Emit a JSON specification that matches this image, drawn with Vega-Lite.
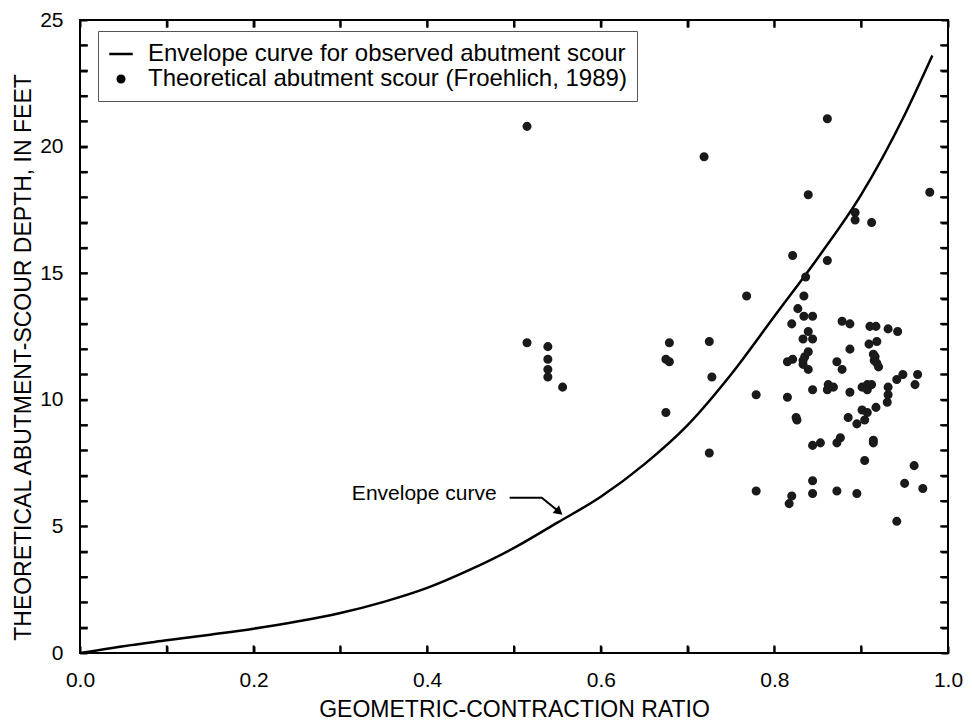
{
  "$schema": "https://vega.github.io/schema/vega-lite/v6.json",
  "autosize": {"type": "none"},
  "padding": {"left": 80, "top": 20, "right": 24, "bottom": 69},
  "width": 868,
  "height": 633,
  "background": "white",
  "config": {
    "font": "Liberation Sans",
    "view": {"stroke": "black", "strokeWidth": 2},
    "axis": {
      "domain": false,
      "offset": -7,
      "ticks": true,
      "tickColor": "black", "tickWidth": 2, "tickSize": 7, "tickOpacity": 1,
      "grid": false,
      "labelFlush": false,
      "labelOverlap": false,
      "labelColor": "black", "titleColor": "black",
      "labelFont": "Liberation Sans", "titleFont": "Liberation Sans",
      "labelFontSize": 21, "titleFontSize": 23, "titleFontWeight": "normal"
    }
  },
  "datasets": {
    "curve": [
      {"x": 0, "y": 0}, {"x": 0.05, "y": 0.27}, {"x": 0.1, "y": 0.5}, {"x": 0.15, "y": 0.725},
      {"x": 0.2, "y": 0.96}, {"x": 0.25, "y": 1.24}, {"x": 0.3, "y": 1.58}, {"x": 0.35, "y": 2.02},
      {"x": 0.4, "y": 2.57}, {"x": 0.45, "y": 3.3}, {"x": 0.5, "y": 4.15}, {"x": 0.55, "y": 5.15},
      {"x": 0.6, "y": 6.17}, {"x": 0.65, "y": 7.45}, {"x": 0.7, "y": 9.0}, {"x": 0.75, "y": 11.0},
      {"x": 0.8, "y": 13.3}, {"x": 0.85, "y": 15.6}, {"x": 0.9, "y": 18.1}, {"x": 0.95, "y": 21.25},
      {"x": 0.982, "y": 23.6}
    ],
    "xticks": [
      {"v": 0.1}, {"v": 0.2}, {"v": 0.3}, {"v": 0.4}, {"v": 0.5},
      {"v": 0.6}, {"v": 0.7}, {"v": 0.8}, {"v": 0.9}
    ],
    "yticks": [
      {"v": 1}, {"v": 2}, {"v": 3}, {"v": 4}, {"v": 5}, {"v": 6}, {"v": 7}, {"v": 8},
      {"v": 9}, {"v": 10}, {"v": 11}, {"v": 12}, {"v": 13}, {"v": 14}, {"v": 15}, {"v": 16},
      {"v": 17}, {"v": 18}, {"v": 19}, {"v": 20}, {"v": 21}, {"v": 22}, {"v": 23}, {"v": 24}
    ],
    "points": [
      {"x": 0.515, "y": 20.8}, {"x": 0.719, "y": 19.6}, {"x": 0.861, "y": 21.1}, {"x": 0.839, "y": 18.1},
      {"x": 0.893, "y": 17.4}, {"x": 0.893, "y": 17.1}, {"x": 0.912, "y": 17.0}, {"x": 0.979, "y": 18.2},
      {"x": 0.821, "y": 15.7}, {"x": 0.861, "y": 15.5}, {"x": 0.836, "y": 14.85}, {"x": 0.834, "y": 14.1},
      {"x": 0.827, "y": 13.6}, {"x": 0.834, "y": 13.3}, {"x": 0.844, "y": 13.3}, {"x": 0.82, "y": 13.0},
      {"x": 0.878, "y": 13.1}, {"x": 0.887, "y": 13.0}, {"x": 0.91, "y": 12.9}, {"x": 0.917, "y": 12.9},
      {"x": 0.931, "y": 12.8}, {"x": 0.942, "y": 12.7}, {"x": 0.839, "y": 12.7}, {"x": 0.833, "y": 12.4},
      {"x": 0.844, "y": 12.4}, {"x": 0.909, "y": 12.2}, {"x": 0.918, "y": 12.3}, {"x": 0.887, "y": 12.0},
      {"x": 0.839, "y": 11.9}, {"x": 0.835, "y": 11.7}, {"x": 0.833, "y": 11.55}, {"x": 0.815, "y": 11.5},
      {"x": 0.821, "y": 11.6}, {"x": 0.833, "y": 11.4}, {"x": 0.839, "y": 11.2}, {"x": 0.872, "y": 11.5},
      {"x": 0.878, "y": 11.2}, {"x": 0.914, "y": 11.8}, {"x": 0.916, "y": 11.7}, {"x": 0.915, "y": 11.55},
      {"x": 0.918, "y": 11.45}, {"x": 0.92, "y": 11.3}, {"x": 0.948, "y": 11.0}, {"x": 0.965, "y": 11.0},
      {"x": 0.962, "y": 10.6}, {"x": 0.941, "y": 10.8}, {"x": 0.931, "y": 10.5}, {"x": 0.931, "y": 10.2},
      {"x": 0.93, "y": 9.9}, {"x": 0.844, "y": 10.4}, {"x": 0.815, "y": 10.1}, {"x": 0.862, "y": 10.6},
      {"x": 0.868, "y": 10.5}, {"x": 0.861, "y": 10.4}, {"x": 0.887, "y": 10.3}, {"x": 0.901, "y": 10.5},
      {"x": 0.907, "y": 10.6}, {"x": 0.912, "y": 10.6}, {"x": 0.907, "y": 10.4}, {"x": 0.917, "y": 9.7},
      {"x": 0.901, "y": 9.6}, {"x": 0.907, "y": 9.5}, {"x": 0.904, "y": 9.2}, {"x": 0.895, "y": 9.05},
      {"x": 0.885, "y": 9.3}, {"x": 0.825, "y": 9.3}, {"x": 0.826, "y": 9.2}, {"x": 0.844, "y": 8.2},
      {"x": 0.853, "y": 8.3}, {"x": 0.872, "y": 8.3}, {"x": 0.876, "y": 8.5}, {"x": 0.914, "y": 8.4},
      {"x": 0.914, "y": 8.3}, {"x": 0.904, "y": 7.6}, {"x": 0.961, "y": 7.4}, {"x": 0.844, "y": 6.8},
      {"x": 0.95, "y": 6.7}, {"x": 0.971, "y": 6.5}, {"x": 0.82, "y": 6.2}, {"x": 0.817, "y": 5.9},
      {"x": 0.844, "y": 6.3}, {"x": 0.872, "y": 6.4}, {"x": 0.895, "y": 6.3}, {"x": 0.941, "y": 5.2},
      {"x": 0.515, "y": 12.25}, {"x": 0.539, "y": 12.1}, {"x": 0.539, "y": 11.6}, {"x": 0.539, "y": 11.2},
      {"x": 0.539, "y": 10.9}, {"x": 0.556, "y": 10.5}, {"x": 0.679, "y": 12.25}, {"x": 0.675, "y": 11.6},
      {"x": 0.679, "y": 11.5}, {"x": 0.675, "y": 9.5}, {"x": 0.725, "y": 12.3}, {"x": 0.728, "y": 10.9},
      {"x": 0.725, "y": 7.9}, {"x": 0.768, "y": 14.1}, {"x": 0.779, "y": 10.2}, {"x": 0.779, "y": 6.4}
    ],
    "arrow": [
      {"x": 0.495, "y": 6.13, "o": 1}, {"x": 0.532, "y": 6.13, "o": 2}, {"x": 0.553, "y": 5.55, "o": 3}
    ],
    "arrowhead": [{"x": 0.552, "y": 5.57}],
    "label": [{"x": 0.48, "y": 6.28, "text": "Envelope curve"}]
  },
  "layer": [
    {
      "data": {"name": "curve"},
      "mark": {"type": "line", "color": "black", "strokeWidth": 2.5, "interpolate": "monotone"},
      "encoding": {
        "x": {
          "field": "x", "type": "quantitative",
          "scale": {"domain": [0, 1], "nice": false},
          "axis": {
            "orient": "bottom",
            "values": [0, 0.1, 0.2, 0.3, 0.4, 0.5, 0.6, 0.7, 0.8, 0.9, 1.0],
            "labelExpr": "round(datum.value * 10) % 2 === 0 ? format(datum.value, '.1f') : ''",
            "labelPadding": 16,
            "title": "GEOMETRIC-CONTRACTION RATIO",
            "titlePadding": 8
          }
        },
        "y": {
          "field": "y", "type": "quantitative",
          "scale": {"domain": [0, 25], "nice": false},
          "axis": {
            "orient": "left",
            "values": [0,1,2,3,4,5,6,7,8,9,10,11,12,13,14,15,16,17,18,19,20,21,22,23,24,25],
            "labelExpr": "datum.value % 5 === 0 ? datum.label : ''",
            "labelPadding": 17,
            "title": "THEORETICAL ABUTMENT-SCOUR DEPTH, IN FEET",
            "titlePadding": 4,
            "titleAnchor": "middle",
            "titleY": 337
          }
        }
      }
    },
    {
      "data": {"name": "xticks"},
      "mark": {"type": "rule", "color": "black", "strokeWidth": 2},
      "encoding": {
        "x": {"field": "v", "type": "quantitative", "axis": null},
        "y": {"datum": 0, "type": "quantitative", "axis": null},
        "y2": {"datum": 0.3}
      }
    },
    {
      "data": {"name": "xticks"},
      "mark": {"type": "rule", "color": "black", "strokeWidth": 2},
      "encoding": {
        "x": {"field": "v", "type": "quantitative", "axis": null},
        "y": {"datum": 25, "type": "quantitative", "axis": null},
        "y2": {"datum": 24.7}
      }
    },
    {
      "data": {"name": "yticks"},
      "mark": {"type": "rule", "color": "black", "strokeWidth": 2},
      "encoding": {
        "y": {"field": "v", "type": "quantitative", "axis": null},
        "x": {"datum": 0, "type": "quantitative", "axis": null},
        "x2": {"datum": 0.009}
      }
    },
    {
      "data": {"name": "yticks"},
      "mark": {"type": "rule", "color": "black", "strokeWidth": 2},
      "encoding": {
        "y": {"field": "v", "type": "quantitative", "axis": null},
        "x": {"datum": 1, "type": "quantitative", "axis": null},
        "x2": {"datum": 0.991}
      }
    },
    {
      "data": {"name": "points"},
      "transform": [{"calculate": "'Theoretical abutment scour (Froehlich, 1989)'", "as": "series"}],
      "mark": {"type": "point", "filled": false, "color": "#1a1a1a", "opacity": 1},
      "encoding": {
        "x": {
          "field": "x", "type": "quantitative",
          "axis": {
            "orient": "top", "labels": false, "title": null,
            "values": [0, 0.1, 0.2, 0.3, 0.4, 0.5, 0.6, 0.7, 0.8, 0.9, 1.0]
          }
        },
        "y": {
          "field": "y", "type": "quantitative",
          "axis": {
            "orient": "right", "labels": false, "title": null,
            "values": [0,1,2,3,4,5,6,7,8,9,10,11,12,13,14,15,16,17,18,19,20,21,22,23,24,25]
          }
        },
        "shape": {
          "field": "series", "type": "nominal",
          "scale": {
            "domain": ["Envelope curve for observed abutment scour", "Theoretical abutment scour (Froehlich, 1989)"],
            "range": ["stroke", "circle"]
          },
          "legend": {
            "title": null,
            "orient": "none",
            "legendX": 18,
            "legendY": 11,
            "strokeColor": "#555555",
            "fillColor": "white",
            "padding": 10,
            "labelFontSize": 24,
            "labelFont": "Liberation Sans",
            "labelColor": "black",
            "labelLimit": 0,
            "labelOffset": 14,
            "rowPadding": 1,
            "symbolStrokeColor": "black",
            "symbolOpacity": 1
          }
        },
        "size": {
          "field": "series", "type": "nominal",
          "scale": {
            "domain": ["Envelope curve for observed abutment scour", "Theoretical abutment scour (Froehlich, 1989)"],
            "range": [550, 20]
          },
          "legend": {
            "title": null,
            "orient": "none",
            "legendX": 18,
            "legendY": 11,
            "strokeColor": "#555555",
            "fillColor": "white",
            "padding": 10,
            "labelFontSize": 24,
            "labelFont": "Liberation Sans",
            "labelColor": "black",
            "labelLimit": 0,
            "labelOffset": 14,
            "rowPadding": 1,
            "symbolStrokeColor": "black",
            "symbolOpacity": 1
          }
        },
        "strokeWidth": {
          "field": "series", "type": "nominal",
          "scale": {
            "domain": ["Envelope curve for observed abutment scour", "Theoretical abutment scour (Froehlich, 1989)"],
            "range": [2.5, 4.6]
          },
          "legend": {
            "title": null,
            "orient": "none",
            "legendX": 18,
            "legendY": 11,
            "strokeColor": "#555555",
            "fillColor": "white",
            "padding": 10,
            "labelFontSize": 24,
            "labelFont": "Liberation Sans",
            "labelColor": "black",
            "labelLimit": 0,
            "labelOffset": 14,
            "rowPadding": 1,
            "symbolStrokeColor": "black",
            "symbolOpacity": 1
          }
        }
      }
    },
    {
      "data": {"name": "arrow"},
      "mark": {"type": "line", "color": "black", "strokeWidth": 2},
      "encoding": {
        "x": {"field": "x", "type": "quantitative", "axis": null},
        "y": {"field": "y", "type": "quantitative", "axis": null},
        "order": {"field": "o", "type": "quantitative"}
      }
    },
    {
      "data": {"name": "arrowhead"},
      "mark": {"type": "point", "shape": "triangle-right", "filled": true, "color": "black", "size": 100, "angle": 40, "opacity": 1},
      "encoding": {
        "x": {"field": "x", "type": "quantitative", "axis": null},
        "y": {"field": "y", "type": "quantitative", "axis": null}
      }
    },
    {
      "data": {"name": "label"},
      "mark": {"type": "text", "align": "right", "baseline": "middle", "fontSize": 21, "font": "Liberation Sans", "color": "black"},
      "encoding": {
        "x": {"field": "x", "type": "quantitative", "axis": null},
        "y": {"field": "y", "type": "quantitative", "axis": null},
        "text": {"field": "text"}
      }
    }
  ],
  "resolve": {"axis": {"x": "independent", "y": "independent"}}
}
